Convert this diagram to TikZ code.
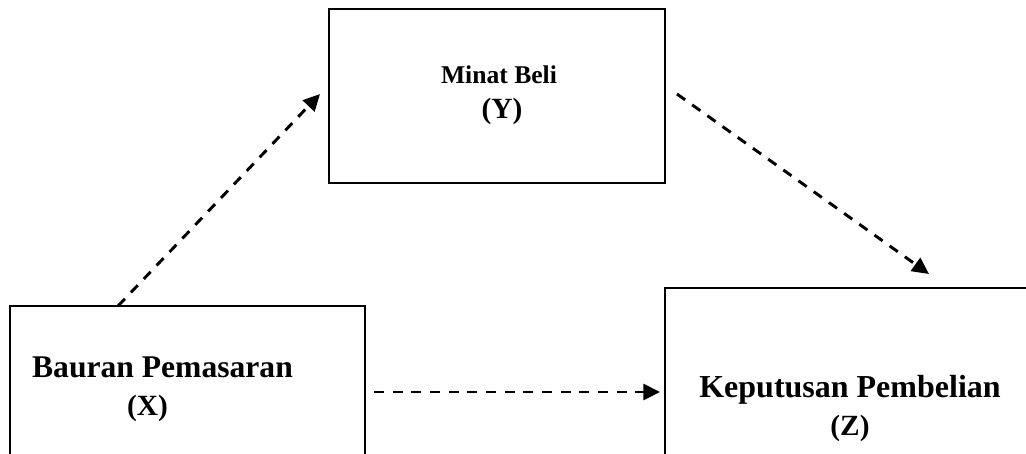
\documentclass[tikz,border=0pt]{standalone}
\usepackage{fontspec}
\setmainfont{Liberation Serif}
\usetikzlibrary{arrows.meta}
\tikzset{
  box/.style={draw=black, line width=1.5pt, rectangle, inner sep=0pt},
  lbl/.style={anchor=base, inner sep=0pt, font=\bfseries},
  arr/.style={line width=2.2pt, dash pattern=on 7.5pt off 6.5pt,
    -{Triangle[length=12.5pt,width=12pt]}},
}
\begin{document}
\begin{tikzpicture}[x=0.75pt,y=-0.75pt]
\clip (0,0) rectangle (1026,454);
\fill[white] (0,0) rectangle (1026,454);
% boxes
\node[box, minimum width=252pt, minimum height=130.5pt] (Y) at (497,96) {};
\node[box, minimum width=266.25pt, minimum height=145.5pt] (X) at (187.5,403) {};
\node[box, minimum width=281.25pt, minimum height=159pt] (Z) at (852.5,394) {};
% texts
\node[lbl, font=\bfseries\fontsize{19.2pt}{22pt}\selectfont] (ty1) at (499,83) {Minat Beli};
\node[lbl, font=\bfseries\fontsize{22pt}{25pt}\selectfont] (ty2) at (502,118) {(Y)};
\node[lbl, font=\bfseries\fontsize{23.7pt}{27pt}\selectfont] (tx1) at (162.5,377) {Bauran Pemasaran};
\node[lbl, font=\bfseries\fontsize{22pt}{25pt}\selectfont] (tx2) at (147.5,415) {(X)};
\node[lbl, font=\bfseries\fontsize{24pt}{27pt}\selectfont] (tz1) at (850,397) {Keputusan Pembelian};
\node[lbl, font=\bfseries\fontsize{22pt}{25pt}\selectfont] (tz2) at (850,435) {(Z)};
% arrow end points
\coordinate (xy1) at (118,306);
\coordinate (xy2) at (320,94);
\coordinate (yz1) at (677,94);
\coordinate (yz2) at (929,274);
\coordinate (xz1) at (374,392);
\coordinate (xz2) at (660,392);
\draw[arr] (xy1) -- (xy2);
\draw[arr] (yz1) -- (yz2);
\draw[arr] (xz1) -- (xz2);
\end{tikzpicture}
\end{document}
